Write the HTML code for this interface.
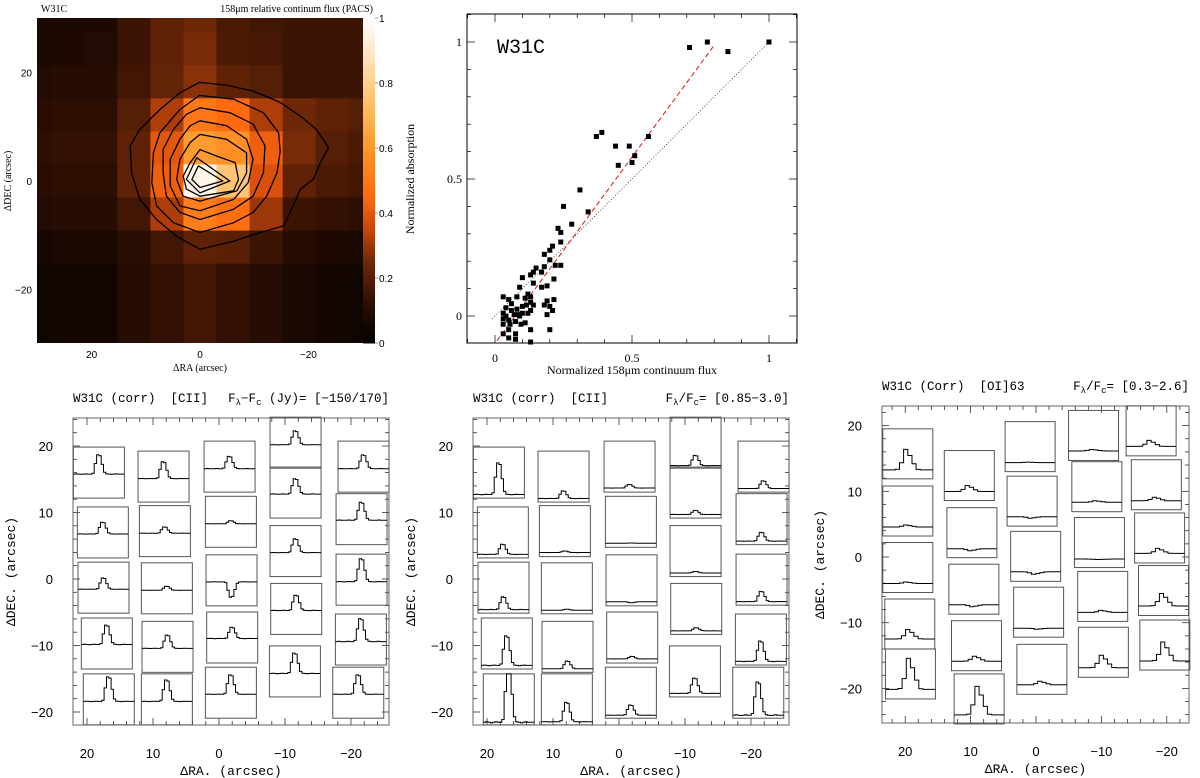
<!DOCTYPE html>
<html><head><meta charset="utf-8"><style>
html,body{margin:0;padding:0;background:#fff;}
svg{display:block;}
text{font-family:"Liberation Sans",sans-serif;fill:#000;}
.mono{font-family:"Liberation Mono",monospace;white-space:pre;}
.serif{font-family:"Liberation Serif",serif;}
</style></head><body>
<svg id="fig" width="1200" height="778" viewBox="0 0 1200 778" xmlns="http://www.w3.org/2000/svg">
<g id="map"></g>
<g id="scatter"></g>
<g id="p1"></g>
<g id="p2"></g>
<g id="p3"></g>
</svg>
<script>
// ---------- map data ----------
const mapCellIdx = [5,4,3,2,1,0,-1,-2,-3,-4,-5];
const mapRows = [
 [0.07,0.07,0.08,0.15,0.22,0.25,0.18,0.16,0.15,0.15,0.15],
 [0.07,0.08,0.09,0.15,0.22,0.26,0.18,0.17,0.15,0.15,0.15],
 [0.09,0.1,0.1,0.16,0.23,0.28,0.22,0.2,0.15,0.15,0.15],
 [0.11,0.12,0.12,0.2,0.32,0.5,0.45,0.32,0.25,0.22,0.2],
 [0.12,0.13,0.13,0.22,0.4,0.62,0.58,0.42,0.26,0.2,0.18],
 [0.11,0.12,0.12,0.22,0.42,0.96,0.76,0.38,0.22,0.18,0.16],
 [0.09,0.1,0.1,0.16,0.32,0.52,0.47,0.3,0.15,0.13,0.12],
 [0.06,0.07,0.07,0.11,0.16,0.22,0.21,0.15,0.1,0.08,0.07],
 [0.04,0.05,0.05,0.1,0.13,0.16,0.13,0.1,0.07,0.05,0.04],
 [0.04,0.05,0.05,0.1,0.13,0.16,0.13,0.1,0.07,0.05,0.04],
 [0.04,0.05,0.05,0.1,0.13,0.16,0.13,0.1,0.07,0.05,0.04]
];
const cellSize = 6.1;
const contours = [
 [[0.1,18.2],[-4.9,17.7],[-9.8,16.6],[-14.8,14.5],[-18.5,12.0],[-21.5,9.5],[-23.7,6.2],[-22.2,3.4],[-20.9,0.3],[-18.5,-1.5],[-17.2,-4.6],[-15.4,-8.3],[-11.1,-9.5],[-6.2,-11.1],[0,-12.6],[4.3,-10.2],[8.0,-7.1],[11.1,-3.4],[12.6,1.5],[12.9,6.5],[11.1,9.5],[7.4,13.2],[3.7,16.3]],
 [[0.1,15.8],[-6.2,15.1],[-11.7,12.6],[-14.5,8.9],[-14.8,5.5],[-14.2,1.5],[-12.3,-2.8],[-9.8,-5.8],[-6.2,-7.7],[0,-9.5],[4.9,-7.7],[8.0,-4.6],[8.9,-0.3],[8.6,5.2],[7.4,8.9],[3.7,13.2]],
 [[0,13.5],[-5.5,12.6],[-9.8,10.5],[-12,6.5],[-11.7,1.5],[-9.8,-2.8],[-6.2,-5.2],[0,-7.1],[3.7,-5.8],[6.2,-2.8],[6.8,1.5],[6.8,5.8],[4.9,9.5],[2.5,12.3]],
 [[0,11.1],[-4.9,10.2],[-8.6,7.7],[-9.8,4.0],[-8.9,-0.3],[-6.2,-3.4],[0,-5.5],[3.7,-4.6],[5.5,-0.9],[5.5,4.0],[3.7,7.7],[1.8,10.2]],
 [[0,8.6],[-4.9,7.7],[-8.6,5.2],[-8.6,1.5],[-6.8,-1.8],[0,-3.7],[3.1,-2.8],[4.3,0.3],[3.7,4.0],[1.8,7.1]],
 [[0,5.8],[-3.1,4.6],[-6.5,3.4],[-7.1,0.3],[-6.2,-1.8],[0,-2.8],[2.5,-1.5],[3.1,0.9],[1.8,3.4]],
 [[0.6,4.3],[-5.5,0],[0,-2.2],[2.5,0.3]],
 [[0.3,2.8],[-4.2,0],[0,-1.2],[1.5,0.3]]
];
const mapTicks = [20,0,-20];
const cbarTicks = [0,0.2,0.4,0.6,0.8,1];
// ---------- scatter data ----------
const scX = [0.71,0.775,0.85,1,0.37,0.39,0.44,0.49,0.51,0.50,0.45,0.56,0.31,0.25,0.34,0.28,0.23,0.24,0.24,0.21,0.18,0.2,0.2,0.24,0.22,0.15,0.18,0.17,0.14,0.13,0.10,0.14,0.215,0.19,0.17,0.09,0.03,0.08,0.05,0.215,0.19,0.18,0.2,0.21,0.19,0.13,0.11,0.13,0.115,0.1,0.08,0.06,0.04,0.03,0.03,0.05,0.07,0.085,0.1,0.12,0.13,0.14,0.055,0.075,0.095,0.11,0.03,0.05,0.075,0.03,0.075,0.05,0.13,0.2,0.13,0.04,0.06,0.09,0.12];
const scY = [0.98,1.0,0.965,1,0.655,0.67,0.62,0.62,0.585,0.56,0.55,0.655,0.46,0.40,0.38,0.335,0.32,0.305,0.27,0.255,0.225,0.24,0.205,0.185,0.185,0.175,0.18,0.16,0.16,0.15,0.14,0.12,0.135,0.11,0.105,0.105,0.07,0.07,0.06,0.06,0.055,0.04,0.035,0.02,0.005,0.07,0.065,0.05,0.04,0.035,0.025,0.02,0.03,0.01,-0.01,-0.015,0.005,0.005,0.01,0.01,0.02,0.04,-0.03,-0.02,-0.03,-0.025,-0.03,-0.05,-0.065,-0.065,-0.085,-0.08,-0.05,-0.05,-0.095,0.0,0.045,0.0,0.08];
const fitSlope = 1.36, fitIntercept = -0.1;
const scTicks = [0,0.5,1];
// ---------- spectra data ----------
const ra12 = [18.2,17.6,17.5,17.0,16.7, 8.4,8.2,7.9,7.8,7.9, -1.6,-1.8,-1.9,-2.0,-1.8, -11.6,-11.6,-11.6,-11.7,-11.5, -21.9,-21.6,-21.6,-21.5,-21.1];
const dec12 = [16.0,7.0,-1.3,-9.7,-18.1, 15.4,7.2,-1.4,-10.2,-18.1, 16.9,8.6,-0.2,-8.8,-17.1, 20.5,13.0,4.2,-4.5,-13.9, 16.9,9.0,-0.1,-9.1,-17.1];
const base1 = [0.47,0.47,0.47,0.48,0.46, 0.46,0.46,0.46,0.47,0.46, 0.46,0.46,0.47,0.48,0.47, 0.46,0.47,0.47,0.47,0.46, 0.46,0.48,0.46,0.46,0.47];
const amp1 = [0.38,0.23,0.22,0.38,0.48, 0.33,0.12,0.08,0.26,0.42, 0.24,0.06,-0.3,0.22,0.38, 0.27,0.3,0.27,0.3,0.4, 0.27,0.35,0.45,0.45,0.38];
const base2 = [0.07,0.07,0.07,0.07,0.05, 0.07,0.08,0.07,0.07,0.06, 0.08,0.08,0.08,0.08,0.06, 0.05,0.07,0.07,0.07,0.07, 0.07,0.07,0.07,0.07,0.06];
const amp2 = [0.62,0.2,0.25,0.58,1.1, 0.15,0.03,0.02,0.15,0.38, 0.07,0.005,-0.02,0.05,0.2, 0.2,0.08,0.03,0.06,0.3, 0.15,0.17,0.2,0.4,0.65];
const ra3 = [19.6,19.6,19.6,19.3,19.2, 10.2,9.8,9.5,9.1,8.7, 0.9,0.6,0.05,-0.4,-0.9, -8.8,-9.3,-9.7,-10.2,-10.3, -17.6,-18.4,-18.9,-19.5,-19.7];
const dec3 = [15.7,7.0,-1.6,-10.2,-17.8, 12.4,3.7,-4.9,-13.5,-21.6, 16.8,8.5,0.1,-8.4,-17.1, 18.5,10.7,2.2,-6.0,-14.5, 19.2,11.0,2.9,-5.1,-13.4];
const base3 = [0.18,0.18,0.18,0.2,0.19, 0.18,0.18,0.19,0.19,0.18, 0.18,0.19,0.19,0.18,0.19, 0.19,0.19,0.17,0.18,0.19, 0.19,0.18,0.19,0.19,0.18];
const amp3 = [0.41,0.04,0.03,0.19,0.62, 0.12,-0.04,-0.04,0.1,0.57, 0.01,-0.03,-0.05,-0.02,0.07, 0.03,0.03,-0.01,0.04,0.25, 0.12,0.07,0.1,0.25,0.38];
const ciiProfile = [0,0.01,0,-0.01,0,0.01,0,0,0.05,0.55,1,0.95,0.5,0.1,0.01,0,-0.01,0,0.01,0,0,0];
const oiProfile = [0,0,0,0.03,0.35,1,0.7,0.3,0.02,0,0,0];
const specTicks = [20,10,0,-10,-20];

const NS = "http://www.w3.org/2000/svg";
function el(tag, attrs, parent, txt){
  const e = document.createElementNS(NS, tag);
  for (const k in attrs) e.setAttribute(k, attrs[k]);
  if (txt !== undefined) e.textContent = txt;
  parent.appendChild(e); return e;
}
function cmap(v){
  const st=[[0,[0,0,0]],[0.12,[45,14,3]],[0.25,[110,40,8]],[0.35,[200,70,10]],[0.45,[255,105,15]],[0.6,[255,150,40]],[0.75,[255,195,110]],[0.9,[255,232,200]],[1,[255,255,255]]];
  v=Math.max(0,Math.min(1,v));
  for(let i=1;i<st.length;i++){ if(v<=st[i][0]){const a=st[i-1],b=st[i],t=(v-a[0])/(b[0]-a[0]);
    return 'rgb('+a[1].map((c,j)=>Math.round(c+(b[1][j]-c)*t)).join(',')+')';}}
  return '#fff';
}

// ---------- MAP ----------
(function(){
  const g=document.getElementById('map');
  const X0=37,X1=363,Y0=18,Y1=343, cx=200, cy=181, s=5.42;
  const mx=ra=>cx - s*ra, my=d=>cy - s*d;
  const defs=el('defs',{},g);
  const cp=el('clipPath',{id:'mapclip'},defs);
  el('rect',{x:X0,y:Y0,width:X1-X0,height:Y1-Y0},cp);
  const cells=el('g',{'clip-path':'url(#mapclip)'},g);
  
  
  mapRows.forEach((row,r)=>{ row.forEach((v,c)=>{
    const ra=mapCellIdx[c]*cellSize, de=mapCellIdx[r]*cellSize;
    const x=mx(ra+cellSize/2), y=my(de+cellSize/2);
    const rc=el('rect',{x:x,y:y,width:s*cellSize+0.6,height:s*cellSize+0.6,fill:cmap(v)},cells);
    
    
  });});
  contours.forEach(cn=>{
    const p=el('polygon',{points:cn.map(q=>mx(q[0]).toFixed(1)+','+my(q[1]).toFixed(1)).join(' '),fill:'none',stroke:'#000','stroke-width':1.3,'stroke-linejoin':'round'},cells);
    
    
  });
  const cb=el('g',{},g);
  
  
  for(let i=0;i<100;i++){ const v=i/100; el('rect',{x:363,y:Y1-(i+1)*(Y1-Y0)/100,width:12,height:(Y1-Y0)/100+0.5,fill:cmap(v+0.005)},cb); }
  cbarTicks.forEach(t=>{ const y=Y1-t*(Y1-Y0);
    el('line',{x1:375,x2:378,y1:y,y2:y,stroke:'#555','stroke-width':0.6},cb);
    const tx=el('text',{x:379,y:y+4,'font-size':10,fill:'#333'},cb,String(t));
    
    
  });
  mapTicks.forEach(t=>{
    const a=el('text',{x:mx(t),y:358,'font-size':10,'text-anchor':'middle',fill:'#333'},g,t<0?'\u2212'+(-t):String(t));
    
    
    const b=el('text',{x:32,y:my(t)+4,'font-size':10,'text-anchor':'end',fill:'#333'},g,t<0?'\u2212'+(-t):String(t));
    
    
  });
  const t1=el('text',{x:41,y:12,'font-size':10,'class':'serif'},g,'W31C');
   
  const t2=el('text',{x:373,y:12,'font-size':10,'text-anchor':'end','class':'serif'},g,'158\u03bcm relative continum flux (PACS)');
   
  const t3=el('text',{x:200,y:371,'font-size':10,'text-anchor':'middle','class':'serif'},g,'\u0394RA (arcsec)');
   
  const t4=el('text',{x:11,y:181,'font-size':10,'text-anchor':'middle','class':'serif',transform:'rotate(-90 11 181)'},g,'\u0394DEC (arcsec)');
   
})();

// ---------- SCATTER ----------
(function(){
  const g=document.getElementById('scatter');
  const X0=467,X1=797,Y0=14,Y1=343;
  const sx=v=>495+274*v, sy=v=>316-274*v;
  el('rect',{x:X0,y:Y0,width:X1-X0,height:Y1-Y0,fill:'none',stroke:'#000','stroke-width':1},g);
  for(let t=-0.1;t<=1.1001;t+=0.1){
    const maj=Math.abs(t*2-Math.round(t*2))<1e-6, L=maj?8:4;
    const x=sx(t), y=sy(t);
    if(x>X0&&x<X1){ el('line',{x1:x,x2:x,y1:Y1,y2:Y1-L,stroke:'#000','stroke-width':0.7},g); el('line',{x1:x,x2:x,y1:Y0,y2:Y0+L,stroke:'#000','stroke-width':0.7},g);}
    if(y>Y0&&y<Y1){ el('line',{x1:X0,x2:X0+L,y1:y,y2:y,stroke:'#000','stroke-width':0.7},g); el('line',{x1:X1,x2:X1-L,y1:y,y2:y,stroke:'#000','stroke-width':0.7},g);}
  }
  scTicks.forEach(t=>{
    const a=el('text',{x:sx(t),y:362,'font-size':12,'text-anchor':'middle','class':'serif'},g,String(t));
     
    const b=el('text',{x:462,y:sy(t)+4,'font-size':12,'text-anchor':'end','class':'serif'},g,String(t));
     
  });
  const one=el('line',{x1:sx(-0.01),y1:sy(-0.01),x2:sx(1),y2:sy(1),stroke:'#333','stroke-width':0.8,'stroke-dasharray':'1,2'},g);
   
  const fx0=(-0.09-fitIntercept)/fitSlope, fx1=0.8;
  const fit=el('line',{x1:sx(fx0),y1:sy(fitSlope*fx0+fitIntercept),x2:sx(fx1),y2:sy(fitSlope*fx1+fitIntercept),stroke:'#d11','stroke-width':1,'stroke-dasharray':'5,3'},g);
   
  scX.forEach((v,i)=>{
    const y=scY[i]; if(sy(y)>Y1) return;
    const p=el('rect',{x:sx(v)-2.5,y:sy(y)-2.5,width:5,height:5,fill:'#000'},g);
     
  });
  const w=el('text',{x:497,y:53,'font-size':20,'class':'mono'},g,'W31C');
   
  const xt=el('text',{x:632,y:374,'font-size':12,'text-anchor':'middle','class':'serif'},g,'Normalized 158\u03bcm continuum flux');
   
  const yt=el('text',{x:414,y:179,'font-size':12,'text-anchor':'middle','class':'serif',transform:'rotate(-90 414 179)'},g,'Normalized absorption');
   
})();

// ---------- SPECTRA PANELS ----------
function spectraPanel(id,cfg,ras,decs,bases,amps,prof){
  const g=document.getElementById(id);
  const mx=ra=>cfg.cx - cfg.sx*ra, my=d=>cfg.cy - cfg.sy*d;
  el('rect',{x:cfg.X0,y:cfg.Y0,width:cfg.X1-cfg.X0,height:cfg.Y1-cfg.Y0,fill:'none',stroke:'#666','stroke-width':1},g);
  for(let t=-26;t<=26;t+=2){
    const maj=t%10===0, L=maj?7:4, x=mx(t), y=my(t);
    if(x>cfg.X0+1&&x<cfg.X1-1){ el('line',{x1:x,x2:x,y1:cfg.Y1,y2:cfg.Y1-L,stroke:'#333','stroke-width':0.8},g); el('line',{x1:x,x2:x,y1:cfg.Y0,y2:cfg.Y0+L,stroke:'#333','stroke-width':0.8},g);}
    if(y>cfg.Y0+1&&y<cfg.Y1-1){ el('line',{x1:cfg.X0,x2:cfg.X0+L,y1:y,y2:y,stroke:'#333','stroke-width':0.8},g); el('line',{x1:cfg.X1,x2:cfg.X1-L,y1:y,y2:y,stroke:'#333','stroke-width':0.8},g);}
  }
  specTicks.forEach(t=>{
    const lab=t<0?'\u2212'+(-t):String(t);
    const a=el('text',{x:mx(t),y:cfg.Y1+33,'font-size':13,'text-anchor':'middle'},g,lab);
     
    const b=el('text',{x:cfg.X0-20,y:my(t)+5,'font-size':13,'text-anchor':'end'},g,lab);
     
  });
  const S=cfg.S;
  ras.forEach((ra,i)=>{
    const bx=mx(ra)-S/2, by=my(decs[i])-S/2;
    const bg=el('g',{},g);
    
    
    el('rect',{x:bx,y:by,width:S,height:S,fill:'none',stroke:'#555','stroke-width':1},bg);
    const n=prof.length, w=S/n; let d='';
    prof.forEach((p,k)=>{
      let v=bases[i]+amps[i]*p; v=Math.max(0,Math.min(1,v));
      const y=(by+S-v*S).toFixed(1);
      d+=(k===0?'M':'L')+(bx+k*w).toFixed(1)+','+y+'L'+(bx+(k+1)*w).toFixed(1)+','+y;
    });
    const sp=el('path',{d:d,fill:'none',stroke:'#000','stroke-width':1},bg);
    
    
  });
  const tt=el('text',{x:cfg.X0,y:cfg.Y0-16,'font-size':12.5,'class':'mono'},g,cfg.titleL);
   
  const tr=el('text',{x:cfg.X1,y:cfg.Y0-16,'font-size':12.5,'class':'mono','text-anchor':'end'},g);
   
  tr.innerHTML=cfg.titleR;
  const xt=el('text',{x:(cfg.X0+cfg.X1)/2,y:cfg.Y1+50,'font-size':13,'text-anchor':'middle','class':'mono'},g,'\u0394RA. (arcsec)');
   
  const ycx=cfg.X0-58, ycy=(cfg.Y0+cfg.Y1)/2;
  const yt=el('text',{x:ycx,y:ycy,'font-size':13,'text-anchor':'middle','class':'mono',transform:'rotate(-90 '+ycx+' '+ycy+')'},g,'\u0394DEC. (arcsec)');
   
}
spectraPanel('p1',{X0:73,X1:389,Y0:418,Y1:725,cx:219,cy:579,sx:6.6,sy:6.65,S:51,
  titleL:'W31C (corr)  [CII]',titleR:'F<tspan font-size="9" dy="3">\u03bb</tspan><tspan dy="-3">\u2212F</tspan><tspan font-size="9" dy="3">c</tspan><tspan dy="-3"> (Jy)= [\u2212150/170]</tspan>'},
  ra12,dec12,base1,amp1,ciiProfile);
spectraPanel('p2',{X0:473,X1:789,Y0:418,Y1:725,cx:619,cy:579,sx:6.6,sy:6.65,S:51,
  titleL:'W31C (corr)  [CII]',titleR:'F<tspan font-size="9" dy="3">\u03bb</tspan><tspan dy="-3">/F</tspan><tspan font-size="9" dy="3">c</tspan><tspan dy="-3">= [0.85\u22123.0]</tspan>'},
  ra12,dec12,base2,amp2,ciiProfile);
spectraPanel('p3',{X0:882,X1:1189,Y0:406,Y1:723,cx:1036,cy:557,sx:6.54,sy:6.57,S:50,
  titleL:'W31C (Corr)  [OI]63',titleR:'F<tspan font-size="9" dy="3">\u03bb</tspan><tspan dy="-3">/F</tspan><tspan font-size="9" dy="3">c</tspan><tspan dy="-3">= [0.3\u22122.6]</tspan>'},
  ra3,dec3,base3,amp3,oiProfile);
</script>
</body></html>
